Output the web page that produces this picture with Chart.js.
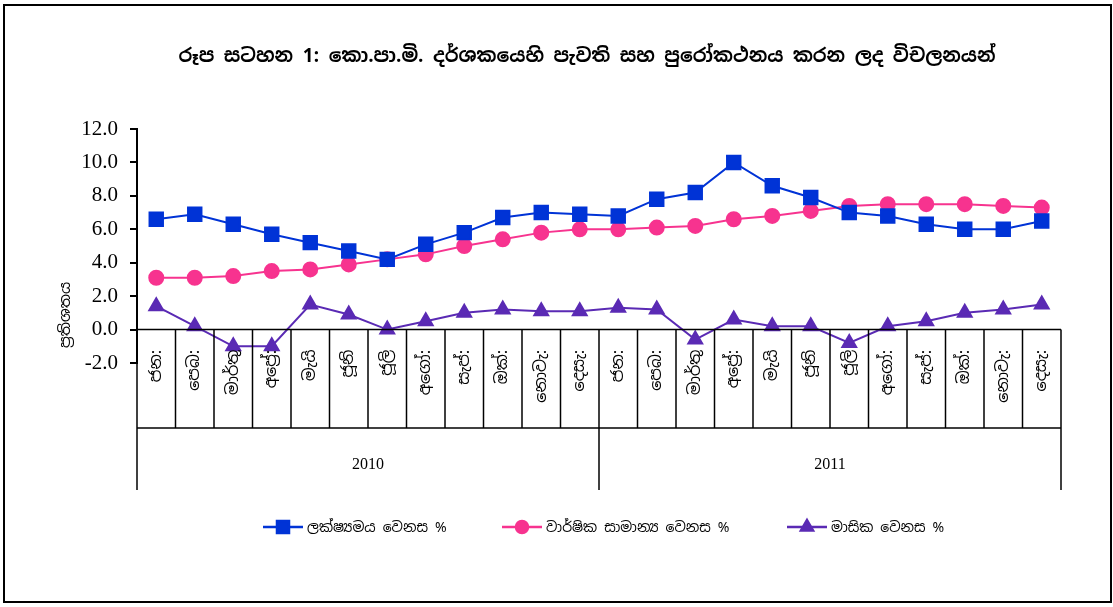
<!DOCTYPE html>
<html>
<head>
<meta charset="utf-8">
<script src="https://cdn.jsdelivr.net/npm/chart.js@4"></script>
<style>
  html, body { margin: 0; padding: 0; background: #fff; }
  #wrap { width: 1113px; height: 607px; position: relative; }
</style>
</head>
<body>
<div id="wrap"><canvas id="CpiChart" width="1113" height="607"></canvas></div>
<script>
// data
var years = ['2010', '2011'];
var months = ['ජන:', 'පෙබ:', 'මාර්තු', 'අප්‍රේ:', 'මැයි', 'ජූනි', 'ජූලි', 'අගෝ:', 'සැප්:', 'ඔක්:', 'නොවැ:', 'දෙසැ:'];
var targetChange = [6.6, 6.9, 6.3, 5.7, 5.2, 4.7, 4.2, 5.1, 5.8, 6.7, 7.0, 6.9,
                    6.8, 7.8, 8.2, 10.0, 8.6, 7.9, 7.0, 6.8, 6.3, 6.0, 6.0, 6.5];
var annualAvgChange = [3.1, 3.1, 3.2, 3.5, 3.6, 3.9, 4.2, 4.5, 5.0, 5.4, 5.8, 6.0,
                       6.0, 6.1, 6.2, 6.6, 6.8, 7.1, 7.4, 7.5, 7.5, 7.5, 7.4, 7.3];
var monthlyChange = [1.4, 0.2, -1.0, -1.0, 1.5, 0.9, 0.0, 0.5, 1.0, 1.2, 1.1, 1.1,
                     1.3, 1.2, -0.6, 0.6, 0.2, 0.2, -0.8, 0.2, 0.5, 1.0, 1.2, 1.5];
var yTicks = [-2, 0, 2, 4, 6, 8, 10, 12];
var seriesNames = ['ලක්ෂ්‍යමය වෙනස %', 'වාර්ෂික සාමාන්‍ය වෙනස %', 'මාසික වෙනස %'];
var titleText = 'රූප සටහන 1: කො.පා.මි. දර්ශකයෙහි පැවති සහ පුරෝකථනය කරන ලද විචලනයන්';
var yTitle = 'ප්‍රතිශතය';

var labels = [];
years.forEach(function(y) {
  months.forEach(function(m) { labels.push(m); });
});

var sinhalaFont = '"Noto Sans Sinhala", "Noto Sans", "DejaVu Sans", sans-serif';
var serifFont = '"Liberation Serif", "DejaVu Serif", serif';

var blue = '#0033d6';
var pink = '#f7338f';
var purple = '#5a2ab4';

// draws the month table under the axis, the title, legend and frame
var decor = {
  id: 'decor',
  afterDraw: function(chart) {
    var ctx = chart.ctx;
    var area = chart.chartArea;
    var xs = chart.scales.x;
    var ys = chart.scales.y;
    var y0 = ys.getPixelForValue(0);
    var tableBottom = 428;
    var yearBottom = 490;
    var n = labels.length;

    ctx.save();
    ctx.strokeStyle = '#000';
    ctx.lineWidth = 1.5;

    // axis line at zero
    ctx.beginPath();
    ctx.moveTo(area.left, y0);
    ctx.lineTo(area.right, y0);
    ctx.stroke();

    // category separators
    for (var i = 0; i <= n; i++) {
      var bx;
      if (i === 0) bx = area.left;
      else if (i === n) bx = area.right;
      else bx = (xs.getPixelForValue(i - 1) + xs.getPixelForValue(i)) / 2;
      var bottom = (i % months.length === 0) ? yearBottom : tableBottom;
      ctx.beginPath();
      ctx.moveTo(bx, y0);
      ctx.lineTo(bx, bottom);
      ctx.stroke();
    }
    ctx.beginPath();
    ctx.moveTo(area.left, tableBottom);
    ctx.lineTo(area.right, tableBottom);
    ctx.stroke();

    // month labels, rotated
    ctx.fillStyle = '#000';
    ctx.font = '16px ' + sinhalaFont;
    ctx.textAlign = 'right';
    ctx.textBaseline = 'middle';
    for (var j = 0; j < n; j++) {
      ctx.save();
      ctx.translate(xs.getPixelForValue(j), y0 + 20);
      ctx.rotate(-Math.PI / 2);
      ctx.fillText(labels[j], 0, 0);
      ctx.restore();
    }

    // year labels
    ctx.font = '16px ' + serifFont;
    ctx.textAlign = 'center';
    years.forEach(function(yr, k) {
      var first = xs.getPixelForValue(k * months.length);
      var last = xs.getPixelForValue(k * months.length + months.length - 1);
      ctx.fillText(yr, (first + last) / 2, 465);
    });

    // y axis title
    ctx.save();
    ctx.translate(66, 315);
    ctx.rotate(-Math.PI / 2);
    ctx.font = '15px ' + sinhalaFont;
    ctx.textAlign = 'center';
    ctx.fillText(yTitle, 0, 0);
    ctx.restore();

    // title
    ctx.font = 'bold 19px ' + sinhalaFont;
    ctx.textAlign = 'center';
    ctx.fillText(titleText, 587, 57);

    // legend
    var legendItems = [
      { x: 263, color: blue, style: 'rect', r: 8.5 },
      { x: 502, color: pink, style: 'circle', r: 6 },
      { x: 787, color: purple, style: 'triangle', r: 7 }
    ];
    var ly = 527;
    legendItems.forEach(function(it, k) {
      ctx.strokeStyle = it.color;
      ctx.lineWidth = 2.5;
      ctx.beginPath();
      ctx.moveTo(it.x, ly);
      ctx.lineTo(it.x + 40, ly);
      ctx.stroke();
      ctx.fillStyle = it.color;
      Chart.helpers.drawPoint(ctx, {
        pointStyle: it.style, radius: it.r, borderWidth: 1,
        backgroundColor: it.color, borderColor: it.color
      }, it.x + 20, ly);
      ctx.fillStyle = '#000';
      ctx.font = '14px ' + sinhalaFont;
      ctx.textAlign = 'left';
      ctx.fillText(seriesNames[k], it.x + 44, ly + 1);
    });

    // outer frame
    ctx.strokeStyle = '#000';
    ctx.lineWidth = 2;
    ctx.strokeRect(4, 5, 1107, 597);
    ctx.restore();
  }
};

var ctx = document.getElementById('CpiChart').getContext('2d');
var config = {
  type: 'line',
  data: {
    labels: labels,
    datasets: [{
      label: seriesNames[0],
      data: targetChange,
      borderColor: blue,
      backgroundColor: blue,
      borderWidth: 2,
      pointStyle: 'rect',
      pointRadius: 9.5,
      pointHoverRadius: 9.5
    }, {
      label: seriesNames[1],
      data: annualAvgChange,
      borderColor: pink,
      backgroundColor: pink,
      borderWidth: 2,
      pointStyle: 'circle',
      pointRadius: 7,
      pointHoverRadius: 7
    }, {
      label: seriesNames[2],
      data: monthlyChange,
      borderColor: purple,
      backgroundColor: purple,
      borderWidth: 2,
      pointStyle: 'triangle',
      pointRadius: 8,
      pointHoverRadius: 8
    }]
  },
  options: {
    responsive: false,
    animation: false,
    events: [],
    layout: { padding: { top: 129, bottom: 244, left: 57, right: 52 } },
    plugins: {
      legend: { display: false },
      title: { display: false },
      tooltip: { enabled: false }
    },
    scales: {
      x: {
        display: false,
        offset: true
      },
      y: {
        min: -2,
        max: 12,
        afterFit: function(scale) { scale.width = 80; },
        afterBuildTicks: function(scale) {
          scale.ticks = yTicks.map(function(v) { return { value: v }; });
        },
        border: { display: true, color: '#000', width: 2 },
        grid: { drawOnChartArea: false, drawTicks: true, tickLength: 7, color: '#000', lineWidth: 2 },
        ticks: {
          color: '#000',
          padding: 12,
          font: { family: serifFont, size: 21 },
          callback: function(v) { return Number(v).toFixed(1); }
        }
      }
    }
  },
  plugins: [decor]
};

var chart = new Chart(ctx, config);
</script>
</body>
</html>
